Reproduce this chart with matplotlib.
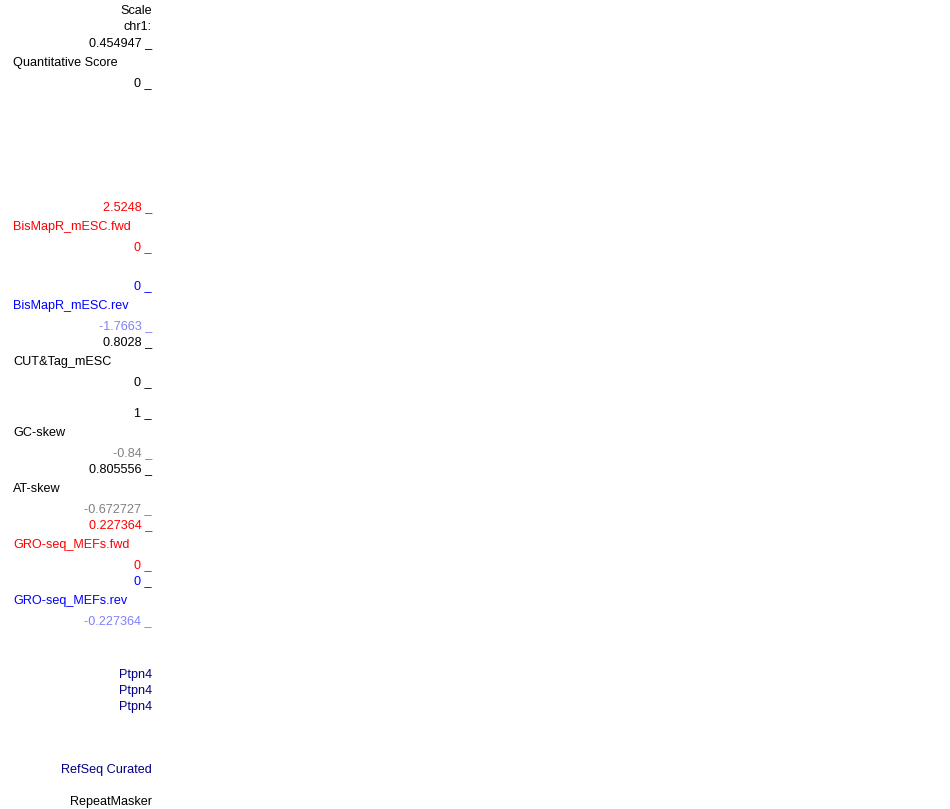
import matplotlib
matplotlib.use("Agg")
import matplotlib.pyplot as plt

plt.rcParams["font.family"] = ["Liberation Sans", "DejaVu Sans"]

# Track label column of the browser image (right-aligned scale values, left-aligned track names)
value_texts = ["Scale", "chr1:", "0.454947 _", "0 _",
               "2.5248 _", "0 _", "0 _", "-1.7663 _",
               "0.8028 _", "0 _", "1 _", "-0.84 _",
               "0.805556 _", "-0.672727 _", "0.227364 _", "0 _",
               "0 _", "-0.227364 _",
               "Ptpn4", "Ptpn4", "Ptpn4", "RefSeq Curated", "RepeatMasker"]
value_rows = [10, 26, 42, 82,
              206, 246, 285, 325,
              341, 381, 412, 452,
              468, 508, 524, 564,
              580, 620,
              674, 690, 706, 769, 801]
value_colors = ["black", "black", "black", "black",
                "#ff0000", "#ff0000", "#0000ff", "#8080ff",
                "black", "black", "black", "#808080",
                "black", "#808080", "#ff0000", "#ff0000",
                "#0000ff", "#8080ff",
                "#000080", "#000080", "#000080", "#000080", "black"]

track_names = ["Quantitative Score", "BisMapR_mESC.fwd", "BisMapR_mESC.rev",
               "CUT&Tag_mESC", "GC-skew", "AT-skew",
               "GRO-seq_MEFs.fwd", "GRO-seq_MEFs.rev"]
track_rows = [62, 226, 305, 361, 432, 488, 544, 600]
track_colors = ["black", "#ff0000", "#0000ff", "black", "black", "black",
                "#ff0000", "#0000ff"]

fig = plt.figure(figsize=(9.5, 8.09), dpi=100)
ax = fig.add_axes([0, 0, 1, 1])
ax.set_xlim(0, 950)
ax.set_ylim(809, 0)
ax.axis("off")

for txt, y, c in zip(value_texts, value_rows, value_colors):
    ax.text(152, y + 1, txt, color=c, fontsize=9.1, ha="right", va="center")

for txt, y, c in zip(track_names, track_rows, track_colors):
    ax.text(13, y + 1, txt, color=c, fontsize=9.1, ha="left", va="center")

plt.savefig("out.png", dpi=100, facecolor="white")
plt.close()
